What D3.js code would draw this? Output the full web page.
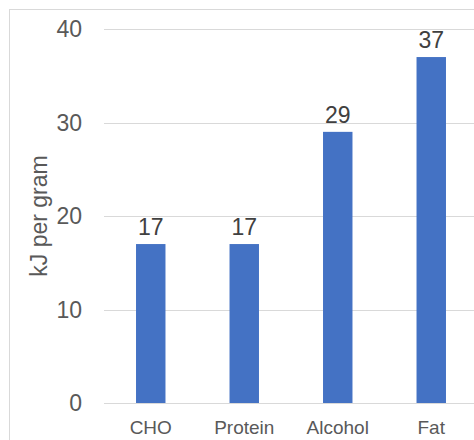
<!DOCTYPE html>
<html>
<head>
<meta charset="utf-8">
<script src="https://cdn.jsdelivr.net/npm/d3@7"></script>
<style>
  html, body { margin: 0; padding: 0; background: #fff; }
  svg { display: block; font-family: "Liberation Sans", Arial, sans-serif; }
</style>
</head>
<body>
<div id="chart"></div>
<script>
const categories = ['CHO', 'Protein', 'Alcohol', 'Fat'];
const values = [17, 17, 29, 37];
const yTicks = [0, 10, 20, 30, 40];

const width = 474;
const height = 440;

const svg = d3.select('#chart').append('svg')
  .attr('width', width)
  .attr('height', height);

// chart area frame (runs off the right and bottom edge)
svg.append('rect')
  .attr('x', 9.5)
  .attr('y', 9.5)
  .attr('width', width + 20)
  .attr('height', height + 20)
  .attr('fill', 'none')
  .attr('stroke', '#d9d9d9');

const x = d3.scaleBand()
  .domain(categories)
  .range([104, 478])
  .paddingInner(0.685)
  .paddingOuter(0.3425);

const y = d3.scaleLinear()
  .domain([0, 40])
  .range([403, 29]);

// gridlines
svg.append('g')
  .selectAll('line')
  .data(yTicks)
  .enter()
  .append('line')
  .attr('x1', 104)
  .attr('x2', width)
  .attr('y1', (d) => Math.round(y(d)) + 0.5)
  .attr('y2', (d) => Math.round(y(d)) + 0.5)
  .attr('stroke', '#d9d9d9')
  .attr('stroke-width', 1);

// y tick labels
svg.append('g')
  .selectAll('text')
  .data(yTicks)
  .enter()
  .append('text')
  .attr('x', 82)
  .attr('y', (d) => y(d))
  .attr('dy', '0.36em')
  .attr('text-anchor', 'end')
  .style('font-size', '23px')
  .style('fill', '#595959')
  .text((d) => d);

// bars
svg.append('g')
  .selectAll('rect')
  .data(values)
  .enter()
  .append('rect')
  .attr('x', (d, i) => x(categories[i]))
  .attr('y', (d) => y(d))
  .attr('width', x.bandwidth())
  .attr('height', (d) => y(0) - y(d))
  .attr('fill', '#4472c4');

// data labels
svg.append('g')
  .selectAll('text')
  .data(values)
  .enter()
  .append('text')
  .attr('x', (d, i) => x(categories[i]) + x.bandwidth() / 2)
  .attr('y', (d) => y(d) - 9)
  .attr('text-anchor', 'middle')
  .style('font-size', '23px')
  .style('fill', '#404040')
  .text((d) => d);

// category labels
svg.append('g')
  .selectAll('text')
  .data(categories)
  .enter()
  .append('text')
  .attr('x', (d) => x(d) + x.bandwidth() / 2)
  .attr('y', 434)
  .attr('text-anchor', 'middle')
  .style('font-size', '19px')
  .style('fill', '#595959')
  .text((d) => d);

// axis title
svg.append('text')
  .attr('transform', 'translate(47,' + 216 + ') rotate(-90)')
  .attr('text-anchor', 'middle')
  .style('font-size', '23px')
  .style('fill', '#595959')
  .text('kJ per gram');
</script>
</body>
</html>
